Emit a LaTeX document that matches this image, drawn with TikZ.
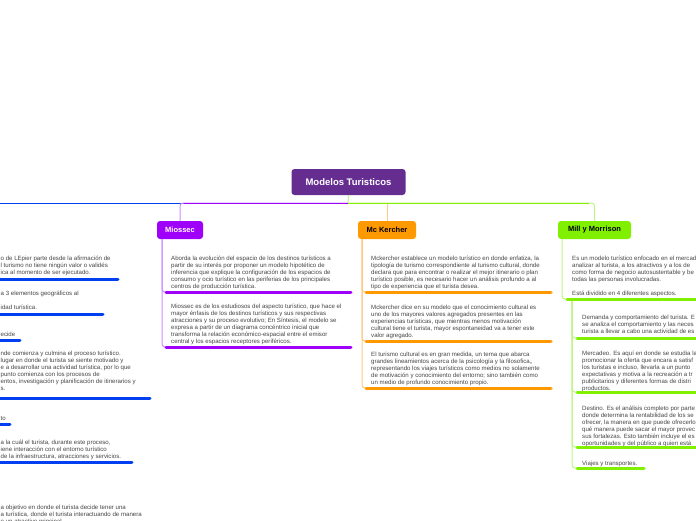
\documentclass[tikz,border=0pt]{standalone}
\usepackage{fontspec}
\setmainfont{Liberation Sans}
\definecolor{rootC}{RGB}{102,45,145}
\definecolor{blueC}{RGB}{0,64,240}
\definecolor{purpleC}{RGB}{158,0,250}
\definecolor{purpleL}{RGB}{204,140,255}
\definecolor{orangeC}{RGB}{255,153,0}
\definecolor{orangeL}{RGB}{255,200,130}
\definecolor{greenC}{RGB}{128,240,0}
\definecolor{greenL}{RGB}{190,245,130}
\definecolor{txtC}{RGB}{68,68,68}
\begin{document}
\begin{tikzpicture}[x=1pt,y=-1pt,
  rootbox/.style={rounded corners=3pt, inner sep=0pt, fill=rootC, text=white,
    minimum width=114pt, minimum height=26pt, font=\fontsize{9.5}{11}\selectfont\bfseries},
  topic/.style={rounded corners=3pt, inner sep=0pt, minimum height=18pt,
    font=\fontsize{7.5}{9}\selectfont\bfseries},
  body/.style={anchor=north west, inner sep=0pt, align=left, text=txtC,
    font=\fontsize{6.1}{7}\selectfont, execute at begin node=\strut},
  bar/.style={line width=3pt, line cap=round},
  conn/.style={line width=1pt, rounded corners=3pt}]
\useasboundingbox (0,0) rectangle (696,520);
\clip (0,0) rectangle (696,520);

% ---------- main nodes ----------
\node[rootbox] (root) at (348.5,182) {Modelos Turisticos};
\node[topic, fill=purpleC, text=white, minimum width=46pt] (mio) at (180,230) {Miossec};
\node[topic, fill=orangeC, text=black, minimum width=58pt] (mck) at (387,230) {Mc Kercher};
\node[topic, fill=greenC, text=black, minimum width=73pt] (mill) at (594.5,230) {Mill y Morrison};

% ---------- branches from root ----------
\coordinate (hub) at (348,203);
\coordinate (leftend) at (-5,203);
\draw[line width=1pt, greenL] (root.south) -- (hub);
\draw[line width=1pt, blueC] (hub) -- (leftend);
\draw[conn, purpleL] (hub) -| (mio.north);
\draw[line width=1pt, purpleC] (hub) -- (184,203);
\draw[line width=1pt, orangeL] (mck.north) -- (mck.north |- hub);
\draw[conn, greenL] (hub) -| (mill.north);
\draw[line width=1pt, greenC] (hub) -- (589,203);

% ---------- left (blue) column ----------
\node[body] (b1) at (0.5,256) {o de LEpier parte desde la afirmación de\\l turismo no tiene ningún valor o validés\\ica al momento de ser ejecutado.};
\coordinate (b1s) at (-5,279); \coordinate (b1e) at (118,279);
\draw[bar, blueC] (b1s) -- (b1e);
\node[body] (b2) at (0.5,291) {a 3 elementos geográficos al\\ \\idad turística.};
\coordinate (b2s) at (-5,314); \coordinate (b2e) at (103,314);
\draw[bar, blueC] (b2s) -- (b2e);
\node[body] (b3) at (0.5,331) {ecide};
\coordinate (b3s) at (-5,340); \coordinate (b3e) at (20,340);
\draw[bar, blueC] (b3s) -- (b3e);
\node[body] (b4) at (0.5,351) {nde comienza y culmina el proceso turístico.\\lugar en donde el turista se siente motivado y\\e a desarrollar una actividad turística, por lo que\\ punto comienza con los procesos de\\entos, investigación y planificación de itinerarios y\\s.};
\coordinate (b4s) at (-5,398); \coordinate (b4e) at (150,398);
\draw[bar, blueC] (b4s) -- (b4e);
\node[body] (b5) at (0.5,415) {to};
\coordinate (b5s) at (-5,424); \coordinate (b5e) at (10,424);
\draw[bar, blueC] (b5s) -- (b5e);
\node[body] (b6) at (0.5,440) {a la cuál el turista, durante este proceso,\\iene interacción con el entorno turístico\\ de la infraestructura, atracciones y servicios.};
\coordinate (b6s) at (-5,462); \coordinate (b6e) at (132,462);
\draw[bar, blueC] (b6s) -- (b6e);
\node[body] (b7) at (0.5,505) {a objetivo en donde el turista decide tener una\\a turística, donde el turista interactuando de manera\\e un atractivo principal};

% ---------- Miossec column ----------
\node[body] (m1) at (171,256) {Aborda la evolución del espacio de los destinos turísticos a\\partir de su interés por proponer un modelo hipotético de\\inferencia que explique la configuración de los espacios de\\consumo y ocio turístico en las periferias de los principales\\centros de producción turística.};
\coordinate (m1s) at (166,292); \coordinate (m1e) at (351,292);
\node[body] (m2) at (171,304) {Miossec es de los estudiosos del aspecto turístico, que hace el\\mayor énfasis de los destinos turísticos y sus respectivas\\atracciones y su proceso evolutivo; En Síntesis, el modelo se\\expresa a partir de un diagrama concéntrico inicial que\\transforma la relación económico-espacial entre el emisor\\central y los espacios receptores periféricos.};
\coordinate (m2s) at (166,347); \coordinate (m2e) at (351,347);
\draw[conn, purpleL] (mio.south -| 162,0) |- (m1s);
\draw[conn, purpleL] (mio.south -| 162,0) |- (m2s);
\draw[bar, purpleC] (m1s) -- (m1e);
\draw[bar, purpleC] (m2s) -- (m2e);

% ---------- Mc Kercher column ----------
\node[body] (k1) at (371,256) {Mckercher establece un modelo turístico en donde enfatiza, la\\tipología de turismo correspondiente al turismo cultural, donde\\declara que para encontrar o realizar el mejor itinerario o plan\\turístico posible, es necesario hacer un análisis profundo a al\\tipo de experiencia que el turista desea.};
\coordinate (k1s) at (366,292); \coordinate (k1e) at (551,292);
\node[body] (k2) at (371,305) {Mckercher dice en su modelo que el conocimiento cultural es\\uno de los mayores valores agregados presentes en las\\experiencias turísticas, que mientras menos motivación\\cultural tiene el turista, mayor espontaneidad va a tener este\\valor agregado.};
\coordinate (k2s) at (366,341); \coordinate (k2e) at (551,341);
\node[body] (k3) at (371,352) {El turismo cultural es en gran medida, un tema que abarca\\grandes lineamientos acerca de la psicología y la filosofica,,\\representando los viajes turísticos como medios no solamente\\de motivación y conocimiento del entorno; sino también como\\un medio de profundo conocimiento propio.};
\coordinate (k3s) at (366,388); \coordinate (k3e) at (551,388);
\draw[conn, orangeL] (mck.south -| 362,0) |- (k1s);
\draw[conn, orangeL] (mck.south -| 362,0) |- (k2s);
\draw[conn, orangeL] (mck.south -| 362,0) |- (k3s);
\draw[bar, orangeC] (k1s) -- (k1e);
\draw[bar, orangeC] (k2s) -- (k2e);
\draw[bar, orangeC] (k3s) -- (k3e);

% ---------- Mill y Morrison column ----------
\node[body] (r0) at (572,256) {Es un modelo turístico enfocado en el mercad\\analizar al turista, a los atractivos y a los de\\como forma de negocio autosustentable y be\\todas las personas involucradas.\\ \\Está dividido en 4 diferentes aspectos.};
\coordinate (r0s) at (567,299); \coordinate (r0e) at (702,299);
\draw[conn, greenL] (mill.south -| 562,0) |- (r0s);

\node[body] (r1) at (582,315) {Demanda y comportamiento del turista. E\\se analiza el comportamiento y las neces\\turista a llevar a cabo una actividad de es};
\coordinate (r1s) at (577,338); \coordinate (r1e) at (702,338);
\node[body] (r2) at (582,351) {Mercadeo. Es aquí en donde se estudia la\\promocionar la oferta que encara a satisf\\los turistas e incluso, llevarla a un punto\\expectativas y motiva a la recreación a tr\\publicitarios y diferentes formas de distri\\productos.};
\coordinate (r2s) at (577,392); \coordinate (r2e) at (702,392);
\node[body] (r3) at (582,406) {Destino. Es el análisis completo por parte\\donde determina la rentabilidad de los se\\ofrecer, la manera en que puede ofrecerlo\\qué manera puede sacar el mayor provec\\sus fortalezas. Esto también incluye el es\\oportunidades y del público a quien está};
\coordinate (r3s) at (577,447); \coordinate (r3e) at (702,447);
\node[body] (r4) at (582,460) {Viajes y transportes.};
\coordinate (r4s) at (577,468); \coordinate (r4e) at (644,468);
\coordinate (rsub) at (572,299);
\draw[conn, greenL] (rsub) |- (r1s);
\draw[conn, greenL] (rsub) |- (r2s);
\draw[conn, greenL] (rsub) |- (r3s);
\draw[conn, greenL] (rsub) |- (r4s);
\draw[bar, greenC] (r0s) -- (r0e);
\draw[bar, greenC] (r1s) -- (r1e);
\draw[bar, greenC] (r2s) -- (r2e);
\draw[bar, greenC] (r3s) -- (r3e);
\draw[bar, greenC] (r4s) -- (r4e);
\end{tikzpicture}
\end{document}
